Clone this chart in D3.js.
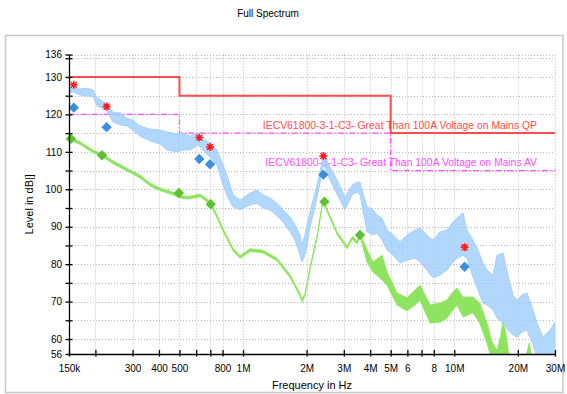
<!DOCTYPE html>
<html>
<head>
<meta charset="utf-8">
<script src="https://cdn.jsdelivr.net/npm/d3@7"></script>
<style>
  body { margin: 0; background: #fff; }
  text { font-family: "Liberation Sans", Arial, sans-serif; }
</style>
</head>
<body>
<svg id="chart" width="567" height="394"></svg>
<script>
  // axis ticks (frequency in MHz)
  var xTickValues = [0.15, 0.2, 0.3, 0.4, 0.5, 0.6, 0.7, 0.8, 1, 2, 3, 4, 5, 6, 7, 8, 10, 20, 30]
  var xTickLabels = ['150k', '', '300', '400', '500', '', '', '800', '1M', '2M', '3M', '4M', '5M', '6', '', '8', '10M', '20M', '30M']
  var yTickValues = [56, 60, 65, 70, 75, 80, 85, 90, 95, 100, 105, 110, 115, 120, 125, 130, 135, 136]
  var yTickLabels = ['56', '60', '', '70', '', '80', '', '90', '', '100', '', '110', '', '120', '', '130', '', '136']

  // limit lines (step after)
  var qpLimitFreq = [0.15, 0.5, 5, 30]
  var qpLimitLevel = [130, 125, 115, 115]
  var avLimitFreq = [0.15, 0.5, 5, 30]
  var avLimitLevel = [120, 115, 105, 105]
  var qpLabel = 'IECV61800-3-1-C3- Great Than 100A Voltage on Mains QP'
  var avLabel = 'IECV61800-3-1-C3- Great Than 100A Voltage on Mains AV'

  // peak trace envelope (light blue)
  var peakFreq = [0.150, 0.157, 0.169, 0.183, 0.195, 0.204, 0.215, 0.227, 0.242, 0.262, 0.282, 0.301, 0.325, 0.363, 0.405, 0.437, 0.487, 0.520, 0.561, 0.612, 0.661, 0.698, 0.753, 0.804, 0.849, 0.897, 0.968, 1.079, 1.165, 1.243, 1.342, 1.448, 1.546, 1.669, 1.762, 1.862, 1.902, 1.965, 2.008, 2.076, 2.145, 2.241, 2.316, 2.392, 2.472, 2.581, 2.786, 3.039, 3.282, 3.466, 3.581, 3.659, 3.864, 4.125, 4.309, 4.551, 4.806, 5.131, 5.538, 5.976, 6.523, 6.886, 7.432, 7.933, 8.562, 9.241, 9.867, 10.31, 11.00, 11.49, 12.27, 12.96, 13.68, 14.29, 15.26, 15.94, 17.01, 17.97, 18.98, 19.83, 20.95, 22.11, 23.60, 24.66, 26.32, 28.41, 30.0]
  var peakHi = [127.3, 127.0, 126.8, 127.0, 126.5, 124.4, 123.6, 122.8, 120.6, 120.4, 119.0, 118.5, 116.9, 116.1, 115.8, 115.3, 114.8, 115.0, 114.2, 115.0, 113.2, 112.4, 110.5, 106.5, 103.0, 98.5, 97.1, 99.0, 99.8, 98.5, 97.7, 96.3, 94.5, 92.6, 90.5, 87.8, 85.1, 87.8, 90.5, 93.9, 97.1, 101.1, 104.6, 108.9, 107.8, 106.0, 102.5, 97.9, 101.1, 101.9, 101.9, 99.8, 95.3, 94.5, 93.1, 92.3, 89.1, 87.8, 85.9, 87.8, 89.1, 89.7, 87.8, 86.4, 88.6, 89.1, 91.3, 92.3, 93.7, 89.1, 86.4, 83.8, 80.3, 78.4, 77.1, 82.4, 83.0, 77.1, 71.8, 70.4, 71.8, 72.3, 67.8, 64.3, 60.5, 62.4, 64.5]
  var peakLo = [125.7, 126.0, 125.2, 124.9, 124.8, 122.2, 121.7, 120.9, 118.0, 117.2, 116.9, 115.8, 114.2, 112.9, 112.1, 110.5, 110.0, 110.5, 110.5, 111.8, 110.0, 108.6, 106.5, 101.1, 97.7, 95.3, 94.5, 95.8, 96.3, 95.0, 94.5, 92.9, 91.3, 88.6, 86.4, 82.4, 80.6, 82.4, 85.1, 89.7, 93.1, 97.7, 101.9, 106.7, 105.1, 102.5, 98.7, 94.5, 98.5, 99.3, 98.5, 95.8, 88.6, 87.8, 88.3, 86.4, 83.8, 82.4, 80.3, 81.1, 81.6, 80.6, 78.4, 76.3, 77.1, 78.4, 80.6, 81.6, 82.4, 81.6, 76.6, 73.1, 69.6, 69.1, 67.8, 65.6, 64.3, 62.4, 61.1, 60.5, 61.9, 62.4, 58.4, 55, 54, 54, 54]

  // average trace envelope (light green)
  var avgFreq = [0.150, 0.169, 0.195, 0.215, 0.242, 0.282, 0.325, 0.363, 0.405, 0.437, 0.487, 0.520, 0.561, 0.626, 0.698, 0.753, 0.804, 0.897, 0.968, 1.079, 1.243, 1.448, 1.669, 1.862, 1.902, 1.965, 2.076, 2.241, 2.392, 2.581, 2.786, 3.106, 3.30, 3.466, 3.581, 3.864, 4.125, 4.551, 4.806, 5.360, 5.976, 6.523, 6.886, 7.678, 8.562, 9.241, 9.867, 10.31, 11.00, 12.27, 13.20, 14.29, 15.09, 15.94, 16.47, 17.01, 17.50, 18.20, 19.50, 21.50, 22.70, 23.30, 24.66, 30.0]
  var avgHi = [113.95, 112.7, 110.45, 109.5, 107.6, 105.6, 103.75, 101.6, 100.3, 99.75, 98.8, 98.15, 98.15, 98.7, 96.8, 93.1, 89.5, 84.25, 82.25, 84.1, 83.7, 81.6, 77.15, 72.15, 70.65, 72.15, 79.2, 87.7, 97.35, 92.95, 88.65, 84.8, 87.45, 86.1, 88.3, 83.8, 80.6, 82.4, 77.9, 72.3, 71.0, 73.1, 74.4, 69.1, 69.6, 70.4, 72.6, 73.6, 71.2, 71.2, 69.6, 64.3, 59.2, 57.0, 60.0, 64.5, 62.0, 55.0, 52.0, 54.0, 59.0, 55.0, 52.0, 50.0]
  var avgLo = [113.25, 112.0, 109.75, 108.8, 106.9, 104.9, 103.05, 100.9, 99.6, 99.05, 98.1, 97.45, 97.45, 98.0, 96.1, 92.4, 88.8, 83.55, 81.55, 83.4, 83.0, 80.9, 76.45, 71.45, 69.95, 71.45, 78.5, 87.0, 96.65, 92.25, 87.95, 84.1, 86.75, 85.4, 87.6, 80.6, 77.9, 75.8, 74.4, 69.1, 67.5, 69.1, 70.4, 64.3, 64.5, 65.6, 67.8, 69.1, 65.9, 67.0, 64.3, 58.9, 54.4, 53.0, 54.0, 55.0, 54.0, 52.0, 50.0, 52.0, 54.0, 52.0, 50.0, 48.0]

  // final measurement markers
  var qpMarkFreq = [0.158, 0.226, 0.621, 0.698, 2.40, 11.2]
  var qpStarLevel = [127.9, 122.1, 113.8, 111.3, 108.9, 84.5]
  var qpDiamondLevel = [121.8, 116.6, 108.1, 106.7, 103.9, 79.3]
  var avMarkFreq = [0.153, 0.215, 0.497, 0.703, 2.43, 3.58]
  var avDiamondLevel = [113.5, 109.1, 99.0, 96.0, 96.7, 87.8]

  var colorPeak = '#9fcdfb'
  var colorAvg = '#8fe45f'
  var colorQp = '#ff4d4d'
  var colorAv = '#ff4dff'

  var svg = d3.select('#chart')
  var plotLeft = 69, plotRight = 555, plotTop = 54.5, plotBottom = 354

  var x = d3.scaleLog().domain([0.15, 30]).range([plotLeft, plotRight])
  var y = d3.scaleLinear().domain([56, 136]).range([plotBottom, plotTop])

  // outer frame + title
  svg.append('rect')
    .attr('x', 5.5).attr('y', 35.5).attr('width', 557.5).attr('height', 357)
    .attr('fill', 'none').attr('stroke', '#c6c6c6').attr('stroke-width', 1.5)
  svg.append('text')
    .attr('x', 268).attr('y', 16.5).attr('text-anchor', 'middle')
    .attr('font-size', 10).text('Full Spectrum')

  // dotted grid
  var grid = svg.append('g').attr('stroke', '#b8b8b8').attr('stroke-dasharray', '1,2').attr('stroke-width', 1)
  grid.selectAll('.v').data(xTickValues.slice(1)).enter().append('line')
    .attr('x1', function (d) { return Math.round(x(d)) + 0.5 })
    .attr('x2', function (d) { return Math.round(x(d)) + 0.5 })
    .attr('y1', plotTop).attr('y2', plotBottom)
  grid.selectAll('.h').data(yTickValues.slice(1)).enter().append('line')
    .attr('x1', plotLeft).attr('x2', plotRight)
    .attr('y1', function (d) { return Math.round(y(d)) + 0.5 })
    .attr('y2', function (d) { return Math.round(y(d)) + 0.5 })

  var clip = svg.append('clipPath').attr('id', 'plot')
  clip.append('rect').attr('x', plotLeft).attr('y', plotTop)
    .attr('width', plotRight - plotLeft).attr('height', plotBottom - plotTop)

  // limit lines
  var step = d3.line().x(function (d) { return x(d[0]) }).y(function (d) { return y(d[1]) }).curve(d3.curveStepAfter)
  svg.append('path')
    .datum(d3.zip(avLimitFreq, avLimitLevel))
    .attr('d', step).attr('fill', 'none').attr('stroke', colorAv)
    .attr('stroke-width', 1.2).attr('stroke-dasharray', '6,2,1.5,2')
  svg.append('path')
    .datum(d3.zip(qpLimitFreq, qpLimitLevel))
    .attr('d', step).attr('fill', 'none').attr('stroke', colorQp).attr('stroke-width', 2)

  svg.append('text').attr('x', 537).attr('y', 129).attr('text-anchor', 'end')
    .attr('font-size', 10.4).attr('fill', colorQp).text(qpLabel)
  svg.append('text').attr('x', 537).attr('y', 166).attr('text-anchor', 'end')
    .attr('font-size', 10.4).attr('fill', colorAv).text(avLabel)

  // traces
  var traces = svg.append('g').attr('clip-path', 'url(#plot)')
  function band(freq, hi, lo, color, opacity) {
    var area = d3.area()
      .x(function (d) { return x(d[0]) })
      .y0(function (d) { return y(d[2]) })
      .y1(function (d) { return y(d[1]) })
    traces.append('path')
      .datum(d3.zip(freq, hi, lo))
      .attr('d', area)
      .attr('fill', color).attr('fill-opacity', opacity)
      .attr('stroke', color).attr('stroke-width', 0.9)
  }
  band(peakFreq, peakHi, peakLo, colorPeak, 0.8)
  band(avgFreq, avgHi, avgLo, colorAvg, 1)

  // markers
  function diamonds(freq, level, color) {
    svg.append('g').selectAll('path').data(d3.zip(freq, level)).enter().append('path')
      .attr('d', d3.symbol().type(d3.symbolSquare).size(54))
      .attr('transform', function (d) { return 'translate(' + x(d[0]) + ',' + y(d[1]) + ') rotate(45)' })
      .attr('fill', color)
  }
  diamonds(avMarkFreq, avDiamondLevel, '#5cc133')
  diamonds(qpMarkFreq, qpDiamondLevel, '#3b8fdc')

  var stars = svg.append('g').attr('stroke', '#ff1a1a').attr('stroke-width', 1.5)
  stars.selectAll('path').data(d3.zip(qpMarkFreq, qpStarLevel)).enter().append('path')
    .attr('transform', function (d) { return 'translate(' + x(d[0]) + ',' + y(d[1]) + ')' })
    .attr('d', 'M-4,0H4M0,-4V4M-2.9,-2.9L2.9,2.9M-2.9,2.9L2.9,-2.9')

  // axes
  var yAxis = d3.axisLeft(y).tickValues(yTickValues)
    .tickFormat(function (d, i) { return yTickLabels[i] })
    .tickSizeInner(3).tickSizeOuter(0).tickPadding(4)
  var gy = svg.append('g').attr('transform', 'translate(' + plotLeft + ',0)').call(yAxis)
  gy.selectAll('.tick line').attr('x2', -3.5).attr('x1', 3.5).attr('stroke-width', 1.3)
  gy.select('.domain').attr('stroke-width', 1.3)
  gy.selectAll('text').attr('font-size', 10).attr('fill', '#000')
    .attr('font-family', '"Liberation Sans", Arial, sans-serif')

  var xAxis = d3.axisBottom(x).tickValues(xTickValues)
    .tickFormat(function (d, i) { return xTickLabels[i] })
    .tickSizeInner(3).tickSizeOuter(0).tickPadding(8)
  var gx = svg.append('g').attr('transform', 'translate(0,' + plotBottom + ')').call(xAxis)
  gx.selectAll('.tick line').attr('y1', -4).attr('y2', 2.5).attr('stroke-width', 1.3)
  gx.select('.domain').attr('stroke-width', 1.3)
  gx.selectAll('text').attr('font-size', 10).attr('fill', '#000')
    .attr('font-family', '"Liberation Sans", Arial, sans-serif')

  svg.append('text')
    .attr('x', 312).attr('y', 389).attr('text-anchor', 'middle')
    .attr('font-size', 11).text('Frequency in Hz')
  svg.append('text')
    .attr('transform', 'translate(33,' + (plotTop + plotBottom) / 2 + ') rotate(-90)')
    .attr('text-anchor', 'middle').attr('font-size', 11).text('Level in dB|]')
</script>
</body>
</html>
